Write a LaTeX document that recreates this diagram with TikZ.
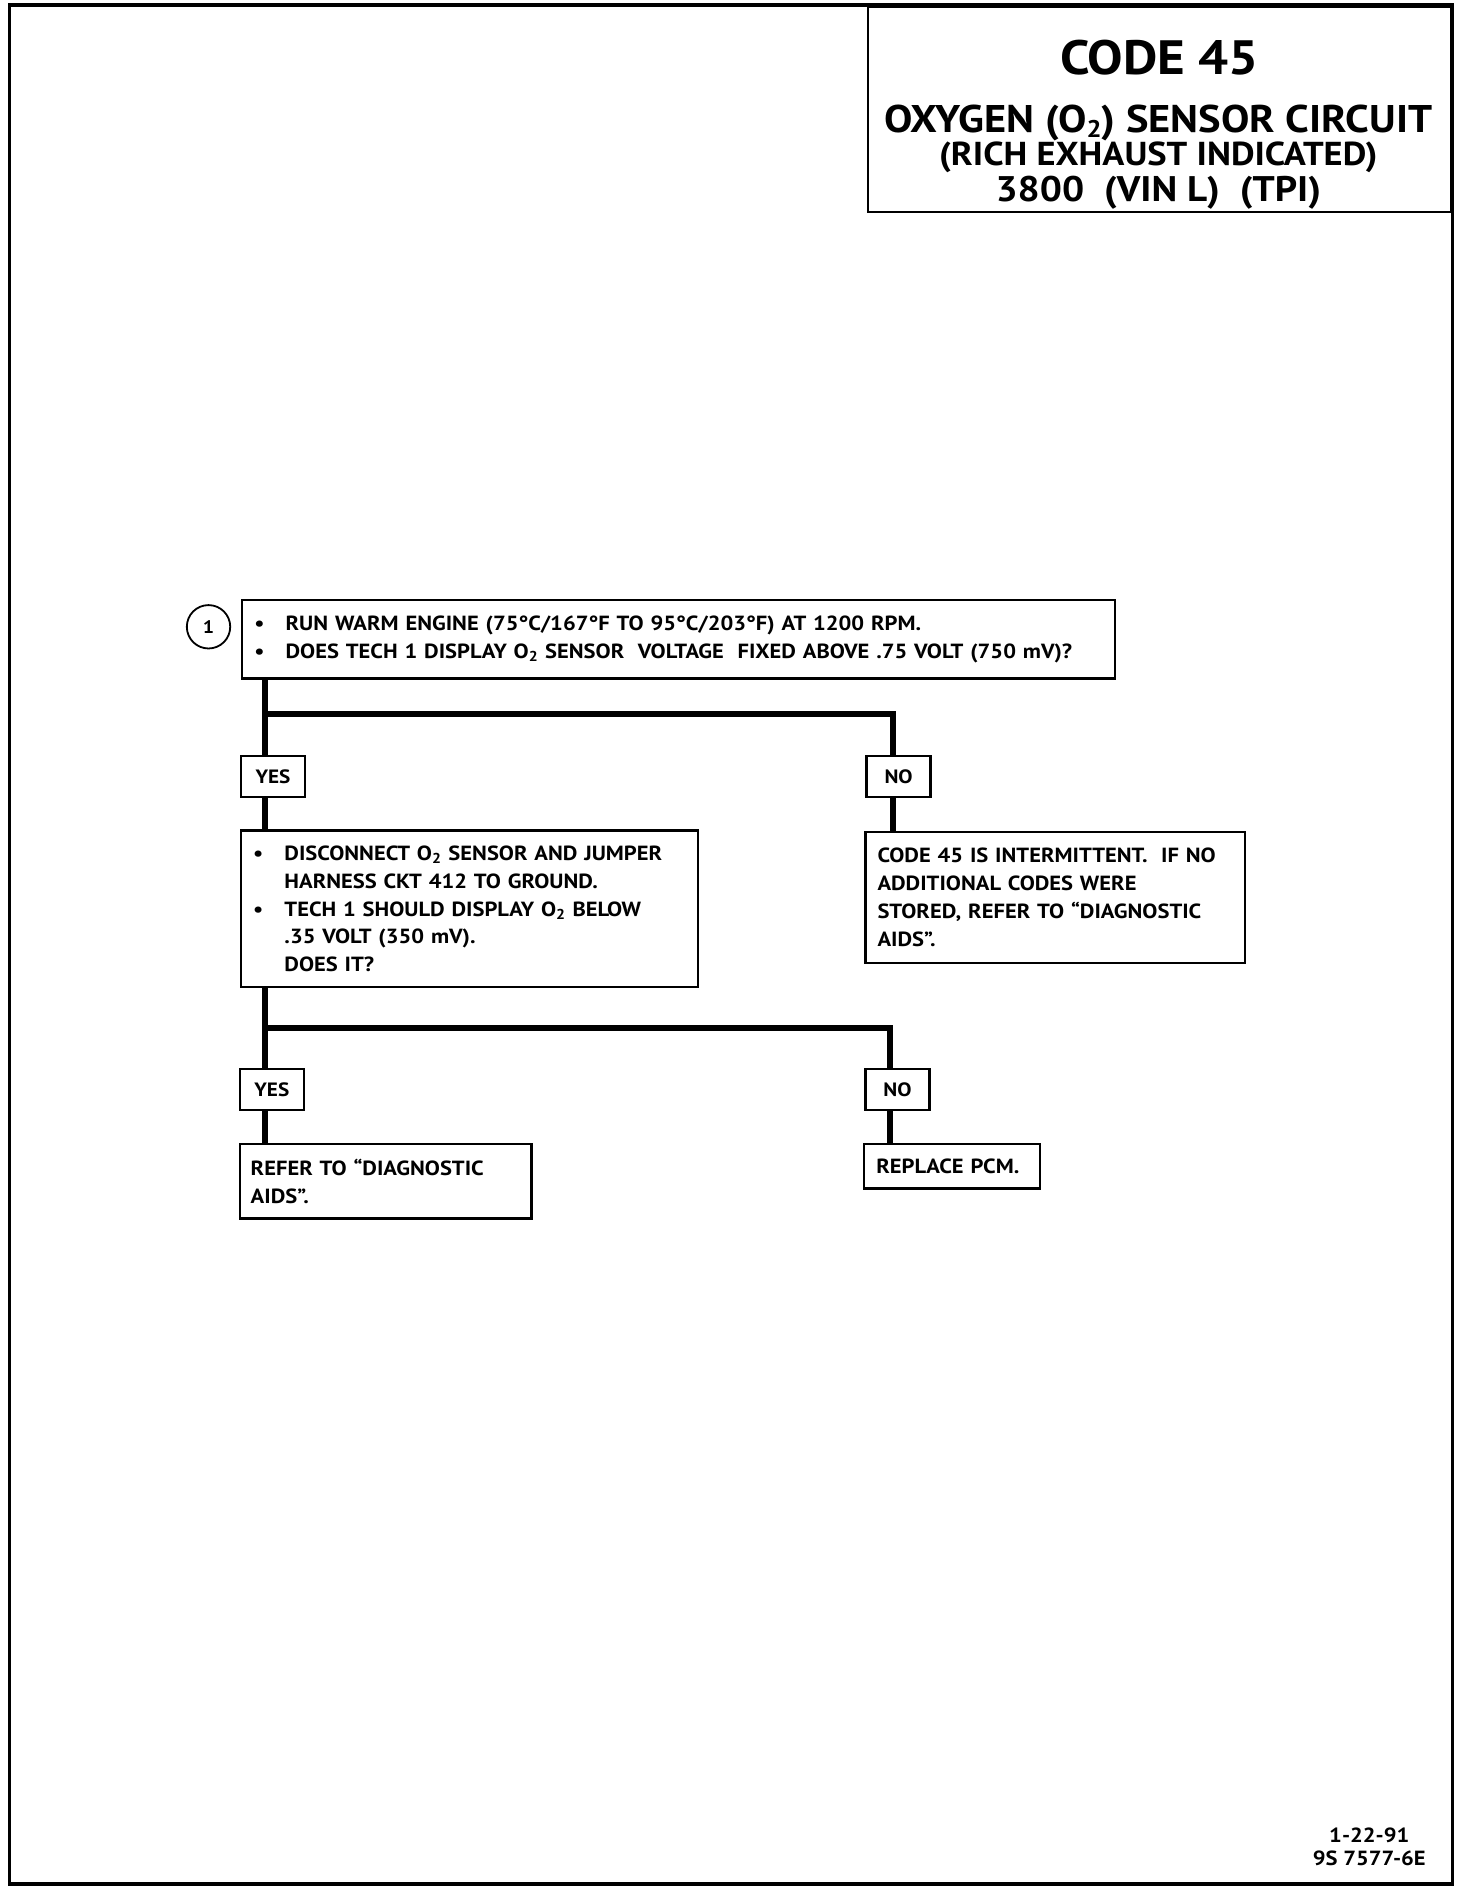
\documentclass[tikz,border=0pt]{standalone}
\usepackage{fontspec}
\setmainfont{PT Sans}[FakeStretch=1.1, BoldFont={PT Sans Bold}]
\usetikzlibrary{calc}
\newcommand\bul{\makebox[26pt][l]{\textbullet}}
\newcommand\ind{\hspace*{26pt}}
\newcommand\Otwo{O\textsubscript{2}}
\tikzset{
  frame/.style={line width=3pt},
  box/.style={draw, line width=2pt, rectangle, anchor=north west, inner xsep=10pt, inner ysep=0pt, align=left,
    font=\bfseries\fontsize{17}{23}\selectfont},
  yn/.style={draw, line width=2pt, rectangle, anchor=north west, minimum width=53pt, minimum height=34pt, inner sep=0pt,
    font=\bfseries\fontsize{16}{18}\selectfont},
  conn/.style={line width=5pt},
}
\begin{document}
\begin{tikzpicture}[x=1pt,y=-1pt]
\useasboundingbox (0,0) rectangle (1221,1568);
\draw[frame] (8,4) rectangle (1205,1563);
% title box
\draw[line width=2pt] (720,6) rectangle (1204,176);
\node[anchor=base, font=\bfseries\fontsize{40}{40}\selectfont] (t1) at (962,62) {CODE 45};
\node[anchor=base, font=\bfseries\fontsize{32}{32}\selectfont, inner ysep=0pt] (t2) at (961,110) {OXYGEN (O\smash{\raisebox{-4pt}{\fontsize{20}{20}\selectfont 2}}) SENSOR CIRCUIT};
\node[anchor=base, font=\bfseries\fontsize{27.5}{27.5}\selectfont, inner ysep=0pt] (t3) at (961,137) {(RICH EXHAUST INDICATED)};
\node[anchor=base, font=\bfseries\fontsize{29.5}{29.5}\selectfont] (t4) at (961,167) {3800~ (VIN L)~ (TPI)};
% step 1
\node[draw, circle, line width=1.5pt, minimum size=36pt, inner sep=0pt, font=\bfseries\fontsize{15}{15}\selectfont] (c1) at (173,520) {1};
\node[box, text width=704pt, minimum height=65pt] (b1) at (200,497)
  {\bul RUN WARM ENGINE (75°C/167°F TO 95°C/203°F) AT 1200 RPM.\\
   \bul DOES TECH 1 DISPLAY \Otwo{} SENSOR~ VOLTAGE~ FIXED ABOVE .75 VOLT (750 mV)?};
\node[yn] (y1) at (199,626) {YES};
\node[yn] (n1) at (718,626) {NO};
\node[box, text width=359pt, minimum height=130pt] (b2) at (199,688)
  {\bul DISCONNECT \Otwo{} SENSOR AND JUMPER\\
   \ind HARNESS CKT 412 TO GROUND.\\
   \bul TECH 1 SHOULD DISPLAY \Otwo{} BELOW\\
   \ind .35 VOLT (350 mV).\\
   \ind DOES IT?};
\node[box, text width=295pt, minimum height=109pt] (b3) at (717,689)
  {CODE 45 IS INTERMITTENT.~ IF NO\\
   ADDITIONAL CODES WERE\\
   STORED, REFER TO “DIAGNOSTIC\\
   AIDS”.};
\node[yn] (y2) at (198,886) {YES};
\node[yn] (n2) at (717,886) {NO};
\node[box, text width=224pt, minimum height=62pt, inner xsep=9pt] (b4) at (198,948)
  {REFER TO “DIAGNOSTIC\\ AIDS”.};
\node[box, text width=126pt, minimum height=37pt] (b5) at (716,948)
  {REPLACE PCM.};
% connectors
\coordinate (j1) at (220,592);
\coordinate (j2) at (220,853);
\draw[conn] (j1 |- b1.south) -- (j1 |- y1.north);
\draw[conn] (j1) -| ([xshift=-5pt]n1.north);
\draw[conn] (j1 |- y1.south) -- (j1 |- b2.north);
\draw[conn] ([xshift=-5pt]n1.south) -- ([xshift=-5pt]n1.south |- b3.north);
\draw[conn] (j2 |- b2.south) -- (j2 |- y2.north);
\draw[conn] (j2) -| ([xshift=-6pt]n2.north);
\draw[conn] (j2 |- y2.south) -- (j2 |- b4.north);
\draw[conn] ([xshift=-6pt]n2.south) -- ([xshift=-6pt]n2.south |- b5.north);
% footer
\node[align=center, font=\bfseries\fontsize{17}{19}\selectfont] (ft) at (1136,1532) {1-22-91\\9S 7577-6E};
\end{tikzpicture}
\end{document}
